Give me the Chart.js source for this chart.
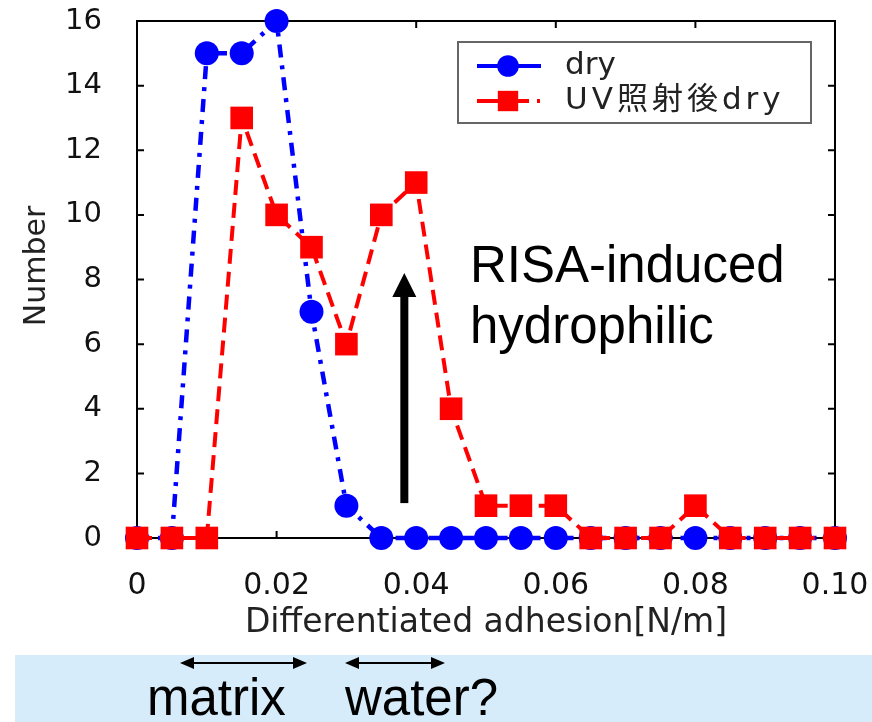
<!DOCTYPE html>
<html>
<head>
<meta charset="utf-8">
<script src="https://cdn.jsdelivr.net/npm/chart.js@4.4.0/dist/chart.umd.min.js"></script>
<style>
  html, body { margin: 0; padding: 0; background: #fff; }
</style>
</head>
<body>
<canvas id="adhesionChart" width="872" height="722"></canvas>
<script>
// adhesion bins [N/m] and counts per bin
const adhesion = [0, 0.005, 0.01, 0.015, 0.02, 0.025, 0.03, 0.035, 0.04, 0.045, 0.05,
  0.055, 0.06, 0.065, 0.07, 0.075, 0.08, 0.085, 0.09, 0.095, 0.1];
const dryCounts = [0, 0, 15, 15, 16, 7, 1, 0, 0, 0, 0, 0, 0, 0, 0, 0, 0, 0, 0, 0, 0];
const uvDryCounts = [0, 0, 0, 13, 10, 9, 6, 10, 11, 4, 1, 1, 1, 0, 0, 0, 1, 0, 0, 0, 0];
const seriesNames = ['dry', 'UV照射後dry'];
const xTicks = [0, 0.02, 0.04, 0.06, 0.08, 0.1];
const xTickLabels = ['0', '0.02', '0.04', '0.06', '0.08', '0.10'];
const yTicks = [0, 2, 4, 6, 8, 10, 12, 14, 16];

const BLUE = '#0000ff';
const RED = '#ff0000';
const TICK_FONT = "'DejaVu Sans', sans-serif";
const NOTE_FONT = "'Liberation Sans', Arial, sans-serif";

const toPoints = (counts) => adhesion.map((x, i) => ({ x, y: counts[i] }));

const dryStyle = { color: BLUE, dash: [13, 8, 4, 8], width: 4.5, pointStyle: 'circle', radius: 12 };
const uvStyle = { color: RED, dash: [15, 8], width: 4, pointStyle: 'rect', radius: 16 };

// background, band under the axis title, frame with inward ticks
const framePlugin = {
  id: 'frame',
  beforeDraw(chart) {
    const { ctx, width, height } = chart;
    ctx.save();
    ctx.fillStyle = '#fff';
    ctx.fillRect(0, 0, width, height);
    ctx.fillStyle = '#d6ecfb';
    ctx.fillRect(15, 655, width - 15, height - 655);
    ctx.restore();
  },
  beforeDatasetsDraw(chart) {
    const { ctx, chartArea: a, scales: { x, y } } = chart;
    ctx.save();
    ctx.strokeStyle = '#000';
    ctx.lineWidth = 2;
    ctx.strokeRect(a.left, a.top, a.right - a.left, a.bottom - a.top);
    ctx.beginPath();
    xTicks.forEach((v) => {
      const px = x.getPixelForValue(v);
      ctx.moveTo(px, a.bottom); ctx.lineTo(px, a.bottom - 7);
      ctx.moveTo(px, a.top); ctx.lineTo(px, a.top + 7);
    });
    yTicks.forEach((v) => {
      const py = y.getPixelForValue(v);
      ctx.moveTo(a.left, py); ctx.lineTo(a.left + 7, py);
      ctx.moveTo(a.right, py); ctx.lineTo(a.right - 7, py);
    });
    ctx.stroke();

    // y axis title
    ctx.fillStyle = '#222';
    ctx.font = `30px ${TICK_FONT}`;
    ctx.textAlign = 'center';
    ctx.textBaseline = 'middle';
    ctx.translate(37, 266);
    ctx.rotate(-Math.PI / 2);
    ctx.fillText('Number', 0, 0);
    ctx.restore();
  },
};

function arrowHead(ctx, x, y, dx, dy, len, half) {
  // dx, dy: unit direction the tip points to
  ctx.beginPath();
  ctx.moveTo(x, y);
  ctx.lineTo(x - dx * len - dy * half, y - dy * len + dx * half);
  ctx.lineTo(x - dx * len + dy * half, y - dy * len - dx * half);
  ctx.closePath();
  ctx.fill();
}

function doubleArrow(ctx, x1, x2, y) {
  ctx.beginPath();
  ctx.moveTo(x1 + 8, y);
  ctx.lineTo(x2 - 8, y);
  ctx.stroke();
  arrowHead(ctx, x1, y, -1, 0, 14, 6);
  arrowHead(ctx, x2, y, 1, 0, 14, 6);
}

const notesPlugin = {
  id: 'notes',
  afterDraw(chart) {
    const { ctx, scales: { x, y } } = chart;
    ctx.save();

    // legend box
    ctx.fillStyle = '#fff';
    ctx.fillRect(458, 42, 353, 81);
    ctx.strokeStyle = '#666';
    ctx.lineWidth = 2;
    ctx.strokeRect(458, 42, 353, 81);
    const rows = [
      { name: seriesNames[0], s: dryStyle, y: 66, spacing: '0px' },
      { name: seriesNames[1], s: uvStyle, y: 101, spacing: '4px' },
    ];
    rows.forEach((r) => {
      ctx.strokeStyle = r.s.color;
      ctx.fillStyle = r.s.color;
      ctx.lineWidth = 4;
      ctx.setLineDash(r.s === uvStyle ? [52, 8, 3, 30] : []);
      ctx.beginPath();
      ctx.moveTo(477, r.y);
      ctx.lineTo(541, r.y);
      ctx.stroke();
      ctx.setLineDash([]);
      Chart.helpers.drawPoint(ctx, { pointStyle: r.s.pointStyle, radius: r.s.radius * 0.9, rotation: 0, borderWidth: 0 }, 508, r.y);
      ctx.fillStyle = '#222';
      ctx.font = `31px ${TICK_FONT}, 'Noto Sans CJK JP'`;
      ctx.textBaseline = 'middle';
      ctx.textAlign = 'left';
      ctx.letterSpacing = r.spacing;
      ctx.fillText(r.name, 565, r.y);
    });
    ctx.letterSpacing = '0px';

    // vertical arrow inside the plot
    ctx.fillStyle = '#000';
    ctx.strokeStyle = '#000';
    const ax = x.getPixelForValue(0.0383);
    const aTop = y.getPixelForValue(8.2);
    const aBottom = y.getPixelForValue(1.08);
    ctx.fillRect(ax - 4, aTop + 20, 8, aBottom - aTop - 20);
    arrowHead(ctx, ax, aTop, 0, -1, 24, 12);

    ctx.font = `51px ${NOTE_FONT}`;
    ctx.textBaseline = 'alphabetic';
    ctx.textAlign = 'left';
    ctx.fillText('RISA-induced', 470, 282);
    ctx.fillText('hydrophilic', 470, 343);

    // ranges marked under the x axis
    ctx.lineWidth = 2;
    doubleArrow(ctx, 180, 307, 663);
    doubleArrow(ctx, 345, 445, 663);
    ctx.fillText('matrix', 147, 715);
    ctx.fillText('water?', 345, 715);
    ctx.restore();
  },
};

const lineSet = (label, counts, s) => ({
  label,
  data: toPoints(counts),
  borderColor: s.color,
  backgroundColor: s.color,
  borderWidth: s.width,
  borderDash: s.dash,
  pointStyle: s.pointStyle,
  pointRadius: s.radius,
  pointBorderWidth: 0,
  pointBackgroundColor: s.color,
  tension: 0,
  clip: false,
});

const ctx = document.getElementById('adhesionChart').getContext('2d');
new Chart(ctx, {
  type: 'line',
  data: {
    // first dataset is drawn last, so the squares sit over the circles
    datasets: [
      lineSet(seriesNames[1], uvDryCounts, uvStyle),
      lineSet(seriesNames[0], dryCounts, dryStyle),
    ],
  },
  options: {
    responsive: false,
    animation: false,
    events: [],
    layout: { padding: { top: 21, right: 37, left: 0, bottom: 0 } },
    plugins: { legend: { display: false }, tooltip: { enabled: false } },
    scales: {
      x: {
        type: 'linear',
        min: 0,
        max: 0.1,
        // invisible tick marks only push the labels away from the axis
        grid: { drawOnChartArea: false, drawTicks: true, tickLength: 28, tickColor: 'rgba(0,0,0,0)' },
        border: { display: false },
        afterBuildTicks: (s) => { s.ticks = xTicks.map((v) => ({ value: v })); },
        afterFit: (s) => { s.height = 184; },
        ticks: {
          padding: 2,
          color: '#111',
          font: { family: TICK_FONT, size: 30 },
          maxRotation: 0,
          autoSkip: false,
          callback: (v, i) => xTickLabels[i],
        },
        title: {
          display: true,
          text: 'Differentiated adhesion[N/m]',
          color: '#222',
          font: { family: TICK_FONT, size: 33 },
          padding: { bottom: 79 },
        },
      },
      y: {
        min: 0,
        max: 16,
        grid: { drawOnChartArea: false, drawTicks: true, tickLength: 33, tickColor: 'rgba(0,0,0,0)' },
        border: { display: false },
        afterBuildTicks: (s) => { s.ticks = yTicks.map((v) => ({ value: v })); },
        afterFit: (s) => { s.width = 137; },
        ticks: {
          padding: 2,
          color: '#111',
          font: { family: TICK_FONT, size: 29 },
        },
      },
    },
  },
  plugins: [framePlugin, notesPlugin],
});
</script>
</body>
</html>
